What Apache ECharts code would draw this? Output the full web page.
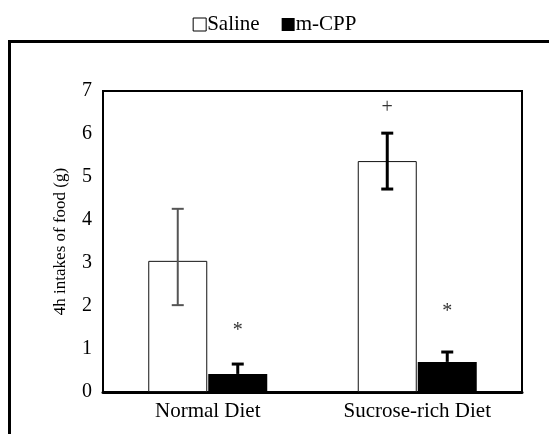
<!DOCTYPE html>
<html>
<head>
<meta charset="utf-8">
<script src="https://cdn.jsdelivr.net/npm/echarts@6/dist/echarts.min.js"></script>
<style>html,body{margin:0;padding:0;background:#fff}#c{width:549px;height:434px}</style>
</head>
<body>
<div id="c"></div>
<script>
var categories = ['Normal Diet', 'Sucrose-rich Diet'];
var seriesNames = ['Saline', 'm-CPP'];
var saline = [3.05, 5.37];
var salineErrLow = [2.02, 4.72];
var salineErrHigh = [4.26, 6.02];
var mcpp = [0.42, 0.70];
var mcppErrLow = [0.42, 0.70];
var mcppErrHigh = [0.65, 0.93];
var salineMarkText = ['', '+'];
var salineMarkValue = [null, 6.6];
var mcppMarkText = ['*', '*'];
var mcppMarkValue = [1.42, 1.86];
var yTicks = [0, 1, 2, 3, 4, 5, 6, 7];

var FONT = '"Liberation Serif", "Times New Roman", serif';
var BAR_W = 59;
var GAP = 1;

function errSeries(low, high, offsetSign, styles) {
  return {
    type: 'custom',
    z: 5,
    data: categories.map(function (c, i) { return [i, low[i], high[i]]; }),
    renderItem: function (params, api) {
      var i = api.value(0);
      var lo = api.coord([i, api.value(1)]);
      var hi = api.coord([i, api.value(2)]);
      var x = lo[0] + offsetSign * (BAR_W + GAP) / 2;
      var st = styles[params.dataIndex];
      var cap = 6;
      var children = [
        {type: 'line', shape: {x1: x, y1: lo[1], x2: x, y2: hi[1]}, style: {stroke: st.c, lineWidth: st.w}},
        {type: 'line', shape: {x1: x - cap, y1: hi[1], x2: x + cap, y2: hi[1]}, style: {stroke: st.c, lineWidth: st.w}}
      ];
      if (st.lowCap) {
        children.push({type: 'line', shape: {x1: x - cap, y1: lo[1], x2: x + cap, y2: lo[1]}, style: {stroke: st.c, lineWidth: st.w}});
      }
      return {type: 'group', children: children};
    }
  };
}

function markSeries(texts, vals, offsetSign) {
  return {
    type: 'custom',
    z: 6,
    data: categories.map(function (c, i) { return [i, vals[i] == null ? 0 : vals[i], texts[i]]; }),
    renderItem: function (params, api) {
      var idx = params.dataIndex;
      if (!texts[idx]) return null;
      var p = api.coord([api.value(0), api.value(1)]);
      return {
        type: 'text',
        style: {
          text: texts[idx], x: p[0] + offsetSign * (BAR_W + GAP) / 2, y: p[1],
          align: 'center', verticalAlign: 'middle',
          font: '20px ' + FONT, fill: '#333'
        }
      };
    }
  };
}

var chart = echarts.init(document.getElementById('c'), null, {renderer: 'canvas'});
chart.setOption({
  animation: false,
  backgroundColor: '#fff',
  textStyle: {fontFamily: FONT, color: '#000'},
  graphic: [{
    type: 'rect', z: 0, silent: true,
    shape: {x: 9.5, y: 41.5, width: 600, height: 500},
    style: {fill: 'none', stroke: '#000', lineWidth: 3}
  }],
  legend: {
    top: 9, left: 'center',
    itemWidth: 13, itemHeight: 13, itemGap: 22,
    textStyle: {fontFamily: FONT, fontSize: 21, color: '#000', padding: [0, 0, 0, -4]},
    data: [
      {name: seriesNames[0], icon: 'rect', itemStyle: {color: '#fff', borderColor: '#000', borderWidth: 1}},
      {name: seriesNames[1], icon: 'rect', itemStyle: {color: '#000'}}
    ]
  },
  grid: {left: 103, right: 27, top: 91, bottom: 42, show: true, borderColor: '#000', borderWidth: 2, backgroundColor: 'transparent'},
  xAxis: {
    type: 'category', data: categories,
    axisLine: {lineStyle: {color: '#000', width: 3}},
    axisTick: {show: false},
    axisLabel: {fontFamily: FONT, fontSize: 21, color: '#000', margin: 9}
  },
  yAxis: {
    type: 'value', min: yTicks[0], max: yTicks[yTicks.length - 1], interval: 1,
    name: '4h intakes of food (g)', nameLocation: 'middle', nameGap: 34,
    nameTextStyle: {fontFamily: FONT, fontSize: 17, color: '#000'},
    axisLine: {show: true, lineStyle: {color: '#000', width: 2}},
    axisTick: {show: false},
    splitLine: {show: false},
    axisLabel: {fontFamily: FONT, fontSize: 20, color: '#000', margin: 11}
  },
  series: [
    {name: seriesNames[0], type: 'bar', data: saline, barWidth: BAR_W, barGap: (GAP / BAR_W * 100) + '%',
      itemStyle: {color: '#fff', borderColor: '#111', borderWidth: 1}},
    {name: seriesNames[1], type: 'bar', data: mcpp, barWidth: BAR_W,
      itemStyle: {color: '#000', borderColor: '#000', borderWidth: 0}},
    errSeries(salineErrLow, salineErrHigh, -1, [{c: '#555', w: 2, lowCap: true}, {c: '#000', w: 3, lowCap: true}]),
    errSeries(mcppErrLow, mcppErrHigh, 1, [{c: '#000', w: 3, lowCap: false}, {c: '#000', w: 3, lowCap: false}]),
    markSeries(salineMarkText, salineMarkValue, -1),
    markSeries(mcppMarkText, mcppMarkValue, 1)
  ]
});
</script>
</body>
</html>
